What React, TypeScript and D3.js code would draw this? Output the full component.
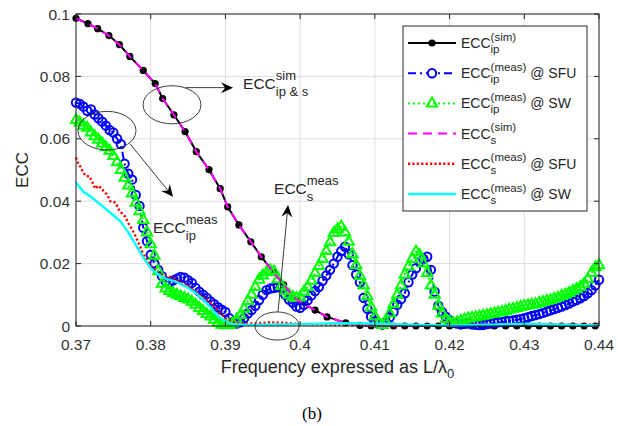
import React from 'react';
import * as d3 from 'd3';

const W = 618, H = 426;

// ---------- axis ticks ----------
const xTicks = [0.37, 0.38, 0.39, 0.4, 0.41, 0.42, 0.43, 0.44];
const xTickLabels = ['0.37', '0.38', '0.39', '0.4', '0.41', '0.42', '0.43', '0.44'];
const yTicks = [0, 0.02, 0.04, 0.06, 0.08, 0.1];
const yTickLabels = ['0', '0.02', '0.04', '0.06', '0.08', '0.1'];

// ---------- simulated ECC (ip and s) ----------
const simF = [0.3700, 0.3716, 0.3729, 0.3744, 0.3758, 0.3772, 0.3790, 0.3806, 0.3816, 0.3831, 0.3846, 0.3861,
  0.3878, 0.3893, 0.3903, 0.3918, 0.3934, 0.3948, 0.3964, 0.3978, 0.3996, 0.4020, 0.4036, 0.4061, 0.4080,
  0.4095, 0.4110, 0.4125, 0.4140, 0.4155, 0.4170, 0.4185, 0.4200, 0.4215, 0.4230, 0.4245, 0.4260, 0.4275,
  0.4290, 0.4305, 0.4320, 0.4335, 0.4350, 0.4365, 0.4380, 0.4395];
const simIpV = [0.0986, 0.0969, 0.0953, 0.0931, 0.0902, 0.0864, 0.0819, 0.0777, 0.0729, 0.0677, 0.0623, 0.0559,
  0.0501, 0.0440, 0.0382, 0.0324, 0.0270, 0.0222, 0.0173, 0.0132, 0.0083, 0.0051, 0.0029, 0.0010, 0.0002,
  0, 0, 0, 0, 0, 0, 0, 0, 0, 0, 0, 0, 0, 0, 0, 0, 0, 0, 0, 0, 0];
const simSV = [0.0986, 0.0969, 0.0953, 0.0931, 0.0902, 0.0864, 0.0819, 0.0777, 0.0729, 0.0677, 0.0623, 0.0559,
  0.0501, 0.0440, 0.0382, 0.0324, 0.0270, 0.0222, 0.0173, 0.0132, 0.0083, 0.0051, 0.0029, 0.0010, 0.0003,
  0.0001, 0.0001, 0.0001, 0.0001, 0.0002, 0.0002, 0.0002, 0.0003, 0.0004, 0.0004, 0.0005, 0.0005, 0.0005,
  0.0004, 0.0004, 0.0005, 0.0005, 0.0004, 0.0003, 0.0003, 0.0002];

// ---------- measured frequency grid ----------
const measF = [
  0.3700, 0.3705, 0.3710, 0.3715, 0.3720, 0.3725, 0.3730, 0.3735, 0.3740, 0.3745,
  0.3750, 0.3755, 0.3760, 0.3765, 0.3770, 0.3775, 0.3780, 0.3785, 0.3790, 0.3795,
  0.3800, 0.3805, 0.3810, 0.3815, 0.3820, 0.3825, 0.3830, 0.3835, 0.3840, 0.3845,
  0.3850, 0.3855, 0.3860, 0.3865, 0.3870, 0.3875, 0.3880, 0.3885, 0.3890, 0.3895,
  0.3900, 0.3905, 0.3910, 0.3915, 0.3920, 0.3925, 0.3930, 0.3935, 0.3940, 0.3945,
  0.3950, 0.3955, 0.3960, 0.3965, 0.3970, 0.3975, 0.3980, 0.3985, 0.3990, 0.3995,
  0.4000, 0.4005, 0.4010, 0.4015, 0.4020, 0.4025, 0.4030, 0.4035, 0.4040, 0.4045,
  0.4050, 0.4055, 0.4060, 0.4065, 0.4070, 0.4075, 0.4080, 0.4085, 0.4090, 0.4095,
  0.4100, 0.4105, 0.4110, 0.4115, 0.4120, 0.4125, 0.4130, 0.4135, 0.4140, 0.4145,
  0.4150, 0.4155, 0.4160, 0.4165, 0.4170, 0.4175, 0.4180, 0.4185, 0.4190, 0.4195,
  0.4200, 0.4205, 0.4210, 0.4215, 0.4220, 0.4225, 0.4230, 0.4235, 0.4240, 0.4245,
  0.4250, 0.4255, 0.4260, 0.4265, 0.4270, 0.4275, 0.4280, 0.4285, 0.4290, 0.4295,
  0.4300, 0.4305, 0.4310, 0.4315, 0.4320, 0.4325, 0.4330, 0.4335, 0.4340, 0.4345,
  0.4350, 0.4355, 0.4360, 0.4365, 0.4370, 0.4375, 0.4380, 0.4385, 0.4390, 0.4395,
  0.4400];

// ECC_ip measured @ SFU (blue circles)
const ipSfuV = [
  0.0716, 0.0712, 0.0703, 0.0690, 0.0694, 0.0678, 0.0666, 0.0655, 0.0642, 0.0628,
  0.0620, 0.0600, 0.0583, 0.0520, 0.0488, 0.0469, 0.0420, 0.0385, 0.0315, 0.0272,
  0.0228, 0.0200, 0.0180, 0.0160, 0.0143, 0.0140, 0.0146, 0.0152, 0.0157, 0.0155,
  0.0147, 0.0138, 0.0122, 0.0110, 0.0100, 0.0090, 0.0079, 0.0070, 0.0060, 0.0052,
  0.0045, 0.0025, 0.0012, 0.0008, 0.0012, 0.0025, 0.0040, 0.0051, 0.0065, 0.0083,
  0.0100, 0.0115, 0.0120, 0.0122, 0.0124, 0.0125, 0.0100, 0.0085, 0.0075, 0.0062,
  0.0058, 0.0068, 0.0082, 0.0098, 0.0112, 0.0125, 0.0145, 0.0162, 0.0180, 0.0200,
  0.0222, 0.0240, 0.0254, 0.0230, 0.0195, 0.0165, 0.0140, 0.0090, 0.0055, 0.0030,
  0.0015, 0.0008, 0.0005, 0.0012, 0.0028, 0.0045, 0.0068, 0.0086, 0.0105, 0.0140,
  0.0165, 0.0185, 0.0205, 0.0215, 0.0222, 0.0180, 0.0110, 0.0065, 0.0045, 0.0030,
  0.0018, 0.0010, 0.0008, 0.0006, 0.0007, 0.0008, 0.0006, 0.0004, 0.0003, 0.0004,
  0.0006, 0.0008, 0.0010, 0.0012, 0.0013, 0.0015, 0.0016, 0.0018, 0.0020, 0.0022,
  0.0025, 0.0028, 0.0032, 0.0035, 0.0038, 0.0042, 0.0046, 0.0050, 0.0054, 0.0058,
  0.0062, 0.0067, 0.0072, 0.0078, 0.0083, 0.0089, 0.0096, 0.0105, 0.0115, 0.0130,
  0.0148];

// ECC_ip measured @ SW (green triangles)
const ipSwV = [
  0.0660, 0.0652, 0.0642, 0.0635, 0.0620, 0.0608, 0.0597, 0.0585, 0.0573, 0.0562,
  0.0545, 0.0525, 0.0500, 0.0475, 0.0450, 0.0425, 0.0395, 0.0368, 0.0340, 0.0300,
  0.0262, 0.0225, 0.0175, 0.0135, 0.0120, 0.0112, 0.0106, 0.0100, 0.0095, 0.0090,
  0.0085, 0.0078, 0.0068, 0.0058, 0.0048, 0.0038, 0.0030, 0.0020, 0.0010, 0.0004,
  0.0002, 0.0003, 0.0008, 0.0020, 0.0035, 0.0055, 0.0080, 0.0100, 0.0125, 0.0148,
  0.0162, 0.0172, 0.0178, 0.0175, 0.0150, 0.0128, 0.0112, 0.0100, 0.0093, 0.0090,
  0.0092, 0.0110, 0.0125, 0.0145, 0.0170, 0.0192, 0.0215, 0.0240, 0.0268, 0.0298,
  0.0310, 0.0318, 0.0300, 0.0270, 0.0230, 0.0195, 0.0160, 0.0130, 0.0095, 0.0060,
  0.0030, 0.0010, 0.0003, 0.0012, 0.0040, 0.0070, 0.0100, 0.0130, 0.0165, 0.0190,
  0.0215, 0.0238, 0.0228, 0.0200, 0.0170, 0.0130, 0.0100, 0.0065, 0.0040, 0.0022,
  0.0012, 0.0010, 0.0012, 0.0016, 0.0020, 0.0024, 0.0026, 0.0028, 0.0030, 0.0033,
  0.0035, 0.0038, 0.0040, 0.0043, 0.0045, 0.0048, 0.0052, 0.0055, 0.0058, 0.0061,
  0.0064, 0.0066, 0.0068, 0.0070, 0.0074, 0.0077, 0.0080, 0.0083, 0.0087, 0.0091,
  0.0096, 0.0100, 0.0106, 0.0112, 0.0118, 0.0125, 0.0135, 0.0150, 0.0170, 0.0188,
  0.0195];

// ECC_s measured @ SFU (red dotted)
const sSfuF = [0.3700, 0.3703, 0.3706, 0.3710, 0.3714, 0.3718, 0.3722, 0.3726, 0.3730, 0.3734, 0.3738, 0.3742,
  0.3746, 0.3750, 0.3754, 0.3758, 0.3762, 0.3766, 0.3770, 0.3775, 0.3780, 0.3785, 0.3790, 0.3795, 0.3800,
  0.3805, 0.3810, 0.3815, 0.3820, 0.3830, 0.3840, 0.3850, 0.3860, 0.3870, 0.3880, 0.3890, 0.3900, 0.3910,
  0.3920, 0.3940, 0.3960, 0.3980, 0.4000, 0.4050, 0.4100, 0.4200, 0.4300, 0.4400];
const sSfuV = [0.054, 0.052, 0.051, 0.049, 0.048, 0.048, 0.046, 0.044, 0.045, 0.044, 0.043, 0.042,
  0.040, 0.040, 0.039, 0.037, 0.036, 0.035, 0.033, 0.031, 0.0286, 0.026, 0.023, 0.021, 0.0195,
  0.018, 0.017, 0.0165, 0.016, 0.0155, 0.014, 0.0128, 0.011, 0.0093, 0.0075, 0.005, 0.0025, 0.0012,
  0.0008, 0.0008, 0.0012, 0.0010, 0.0006, 0.0003, 0.0002, 0.0002, 0.0005, 0.0004];

// ECC_s measured @ SW (cyan solid)
const sSwF = [0.3700, 0.3710, 0.3720, 0.3735, 0.3750, 0.3760, 0.3770, 0.3780, 0.3790, 0.3800, 0.3810, 0.3820,
  0.3830, 0.3840, 0.3850, 0.3860, 0.3870, 0.3880, 0.3890, 0.3900, 0.3910, 0.3930, 0.3950, 0.3980, 0.4000,
  0.4050, 0.4100, 0.4150, 0.4200, 0.4250, 0.4300, 0.4350, 0.4400];
const sSwV = [0.046, 0.043, 0.0414, 0.0385, 0.0355, 0.0334, 0.030, 0.026, 0.022, 0.0185, 0.0165, 0.0152,
  0.0145, 0.0135, 0.0122, 0.0106, 0.0085, 0.006, 0.0032, 0.0015, 0.0006, 0.0003, 0.0004, 0.0005, 0.0006,
  0.0009, 0.0008, 0.0004, 0.0002, 0.0004, 0.0007, 0.0004, 0.0002];

// ---------- layout ----------
const PL = 76, PR = 599, PT = 14, PB = 326;
const FONT = '"Liberation Sans", Arial, Helvetica, sans-serif';
const AX = '#262626';

const x = d3.scaleLinear().domain([0.37, 0.44]).range([PL, PR]);
const y = d3.scaleLinear().domain([0, 0.1]).range([PB, PT]);

const zip = (fs: number[], vs: number[]) => fs.map((f, i) => [f, vs[i]] as [number, number]);
const line = d3.line<[number, number]>().x(d => x(d[0])).y(d => y(d[1]));
const triPath = d3.symbol().type(d3.symbolTriangle).size(46)() as string;

let ctx: CanvasRenderingContext2D | null = null;
function tw(s: string, size: number): number {
  if (!ctx && typeof document !== 'undefined') ctx = document.createElement('canvas').getContext('2d');
  if (!ctx) return s.length * size * 0.55;
  ctx.font = `${size}px ${FONT}`;
  return ctx.measureText(s).width;
}

function EccText({ px, py, sup, sub, suffix, size, small, supDy, subDy }:
  { px: number; py: number; sup: string; sub: string; suffix?: string; size: number; small: number; supDy: number; subDy: number }) {
  const w = tw('ECC', size);
  const w2 = Math.max(tw(sup, small), tw(sub, small));
  return (
    <g fontFamily={FONT} fill={AX}>
      <text x={px} y={py} fontSize={size}>ECC</text>
      <text x={px + w} y={py + supDy} fontSize={small}>{sup}</text>
      <text x={px + w} y={py + subDy} fontSize={small}>{sub}</text>
      {suffix ? <text x={px + w + w2 + tw(' ', size)} y={py} fontSize={size}>{suffix}</text> : null}
    </g>
  );
}

function Arrow({ f0, v0, f1, v1 }: { f0: number; v0: number; f1: number; v1: number }) {
  const ax = x(f0), ay = y(v0), bx = x(f1), by = y(v1);
  const ang = Math.atan2(by - ay, bx - ax);
  const L = 12, Wd = 5.5, N = 8;
  const cos = Math.cos(ang), sin = Math.sin(ang);
  const pt = (l: number, w: number) => [bx - l * cos - w * sin, by - l * sin + w * cos];
  const p1 = pt(L, Wd), p2 = pt(N, 0), p3 = pt(L, -Wd);
  return (
    <g>
      <line x1={ax} y1={ay} x2={p2[0]} y2={p2[1]} stroke="#262626" strokeWidth={0.9} />
      <path d={`M${bx},${by}L${p1[0]},${p1[1]}L${p2[0]},${p2[1]}L${p3[0]},${p3[1]}Z`} fill="#000" />
    </g>
  );
}

function Ell({ f, v, df, dv }: { f: number; v: number; df: number; dv: number }) {
  return <ellipse cx={x(f)} cy={y(v)} rx={x(f + df) - x(f)} ry={y(v) - y(v + dv)} fill="none" stroke="#262626" strokeWidth={0.9} />;
}

export default function App() {
  const simIp = zip(simF, simIpV);
  const simS = zip(simF, simSV);
  const ipSfu = zip(measF, ipSfuV);
  const ipSw = zip(measF, ipSwV);
  const sSfu = zip(sSfuF, sSfuV);
  const sSw = zip(sSwF, sSwV);

  const legendRows = [
    { sup: '(sim)', sub: 'ip', suffix: '' },
    { sup: '(meas)', sub: 'ip', suffix: '@ SFU' },
    { sup: '(meas)', sub: 'ip', suffix: '@ SW' },
    { sup: '(sim)', sub: 's', suffix: '' },
    { sup: '(meas)', sub: 's', suffix: '@ SFU' },
    { sup: '(meas)', sub: 's', suffix: '@ SW' },
  ];
  const LX0 = 408, LX1 = 456, LM = 432, LT = 43, LS = 30.2;

  return (
    <svg width={W} height={H} style={{ position: 'absolute', left: 0, top: 0, background: '#fff' }}>
      <rect x={0} y={0} width={W} height={H} fill="#fff" />
      {/* grid */}
      <g stroke="#dcdcdc" strokeWidth={1}>
        {xTicks.map(t => <line key={'gx' + t} x1={x(t)} x2={x(t)} y1={PT} y2={PB} />)}
        {yTicks.map(t => <line key={'gy' + t} x1={PL} x2={PR} y1={y(t)} y2={y(t)} />)}
      </g>

      {/* data */}
      <path d={line(simIp) as string} fill="none" stroke="#000" strokeWidth={2} />
      {simIp.map((d, i) => <circle key={'sd' + i} cx={x(d[0])} cy={y(d[1])} r={3.6} fill="#000" />)}

      <path d={line(ipSfu) as string} fill="none" stroke="#0000ff" strokeWidth={2} strokeDasharray="8,4,2,4" />
      {ipSfu.map((d, i) => <circle key={'bc' + i} cx={x(d[0])} cy={y(d[1])} r={4.2} fill="none" stroke="#0000ff" strokeWidth={2} />)}

      <path d={line(ipSw) as string} fill="none" stroke="#00ff00" strokeWidth={2} strokeDasharray="2,3" />
      {ipSw.map((d, i) => <path key={'gt' + i} d={triPath} transform={`translate(${x(d[0])},${y(d[1])})`} fill="none" stroke="#00ff00" strokeWidth={2} />)}

      <path d={line(simS) as string} fill="none" stroke="#ff00ff" strokeWidth={2} strokeDasharray="9,6" />
      <path d={line(sSfu) as string} fill="none" stroke="#ff0000" strokeWidth={2.4} strokeDasharray="2.2,2.2" />
      <path d={line(sSw) as string} fill="none" stroke="#00ffff" strokeWidth={2.4} />

      {/* axes box */}
      <rect x={PL} y={PT} width={PR - PL} height={PB - PT} fill="none" stroke={AX} strokeWidth={1} />
      <g stroke={AX} strokeWidth={1}>
        {xTicks.map(t => <line key={'tb' + t} x1={x(t)} x2={x(t)} y1={PB} y2={PB - 5} />)}
        {xTicks.map(t => <line key={'tt' + t} x1={x(t)} x2={x(t)} y1={PT} y2={PT + 5} />)}
        {yTicks.map(t => <line key={'tl' + t} x1={PL} x2={PL + 5} y1={y(t)} y2={y(t)} />)}
        {yTicks.map(t => <line key={'tr' + t} x1={PR} x2={PR - 5} y1={y(t)} y2={y(t)} />)}
      </g>
      <g fontFamily={FONT} fill="#333" fontSize={15.5}>
        {xTicks.map((t, i) => <text key={'xl' + t} x={x(t)} y={350} textAnchor="middle">{xTickLabels[i]}</text>)}
        {yTicks.map((t, i) => <text key={'yl' + t} x={70} y={y(t) + 5.5} textAnchor="end">{yTickLabels[i]}</text>)}
      </g>
      <text x={0} y={0} transform={`translate(28,${(PT + PB) / 2}) rotate(-90)`} textAnchor="middle" fontFamily={FONT} fontSize={17} fill={AX}>ECC</text>
      <text x={(PL + PR) / 2} y={373} textAnchor="middle" fontFamily={FONT} fontSize={18} fill={AX}>
        Frequency expressed as L/λ<tspan fontSize={13} dy={5}>0</tspan>
      </text>
      <text x={312} y={419} textAnchor="middle" fontFamily='"Liberation Serif", "Times New Roman", serif' fontSize={17} fill="#000">(b)</text>

      {/* annotations */}
      <Ell f={0.38285} v={0.0709} df={0.00388} dv={0.0061} />
      <Ell f={0.37415} v={0.0626} df={0.00388} dv={0.0062} />
      <Ell f={0.39691} v={0.0} df={0.00295} dv={0.0045} />
      <Arrow f0={0.38473} v0={0.0764} f1={0.39102} v1={0.0764} />
      <Arrow f0={0.37723} v0={0.0584} f1={0.38299} v1={0.0414} />
      <Arrow f0={0.39704} v0={0.0045} f1={0.39838} v1={0.0388} />
      <EccText px={x(0.39236)} py={y(0.0761)} sup="sim" sub="ip & s" size={15.5} small={13} supDy={-9} subDy={7} />
      <EccText px={x(0.38031)} py={y(0.0299)} sup="meas" sub="ip" size={15.5} small={13} supDy={-9} subDy={7} />
      <EccText px={x(0.39651)} py={y(0.0424)} sup="meas" sub="s" size={15.5} small={13} supDy={-9} subDy={7} />

      {/* legend */}
      <rect x={403} y={26} width={184} height={185} fill="#fff" stroke="#262626" strokeWidth={1} />
      <g>
        <line x1={LX0} x2={LX1} y1={LT} y2={LT} stroke="#000" strokeWidth={2} />
        <circle cx={LM} cy={LT} r={3.6} fill="#000" />
        <line x1={LX0} x2={LX1} y1={LT + LS} y2={LT + LS} stroke="#0000ff" strokeWidth={2} strokeDasharray="8,4,2,4" />
        <circle cx={LM} cy={LT + LS} r={4.2} fill="#fff" stroke="#0000ff" strokeWidth={2} />
        <line x1={LX0} x2={LX1} y1={LT + 2 * LS} y2={LT + 2 * LS} stroke="#00ff00" strokeWidth={2} strokeDasharray="2,3" />
        <path d={triPath} transform={`translate(${LM},${LT + 2 * LS})`} fill="none" stroke="#00ff00" strokeWidth={2} />
        <line x1={LX0} x2={LX1} y1={LT + 3 * LS} y2={LT + 3 * LS} stroke="#ff00ff" strokeWidth={2} strokeDasharray="9,6" />
        <line x1={LX0} x2={LX1} y1={LT + 4 * LS} y2={LT + 4 * LS} stroke="#ff0000" strokeWidth={2.4} strokeDasharray="2.2,2.2" />
        <line x1={LX0} x2={LX1} y1={LT + 5 * LS} y2={LT + 5 * LS} stroke="#00ffff" strokeWidth={2.4} />
      </g>
      {legendRows.map((r, i) => (
        <EccText key={'lg' + i} px={461} py={LT + i * LS + 5} sup={r.sup} sub={r.sub} suffix={r.suffix}
          size={14} small={11.5} supDy={-7.5} subDy={5} />
      ))}
    </svg>
  );
}
